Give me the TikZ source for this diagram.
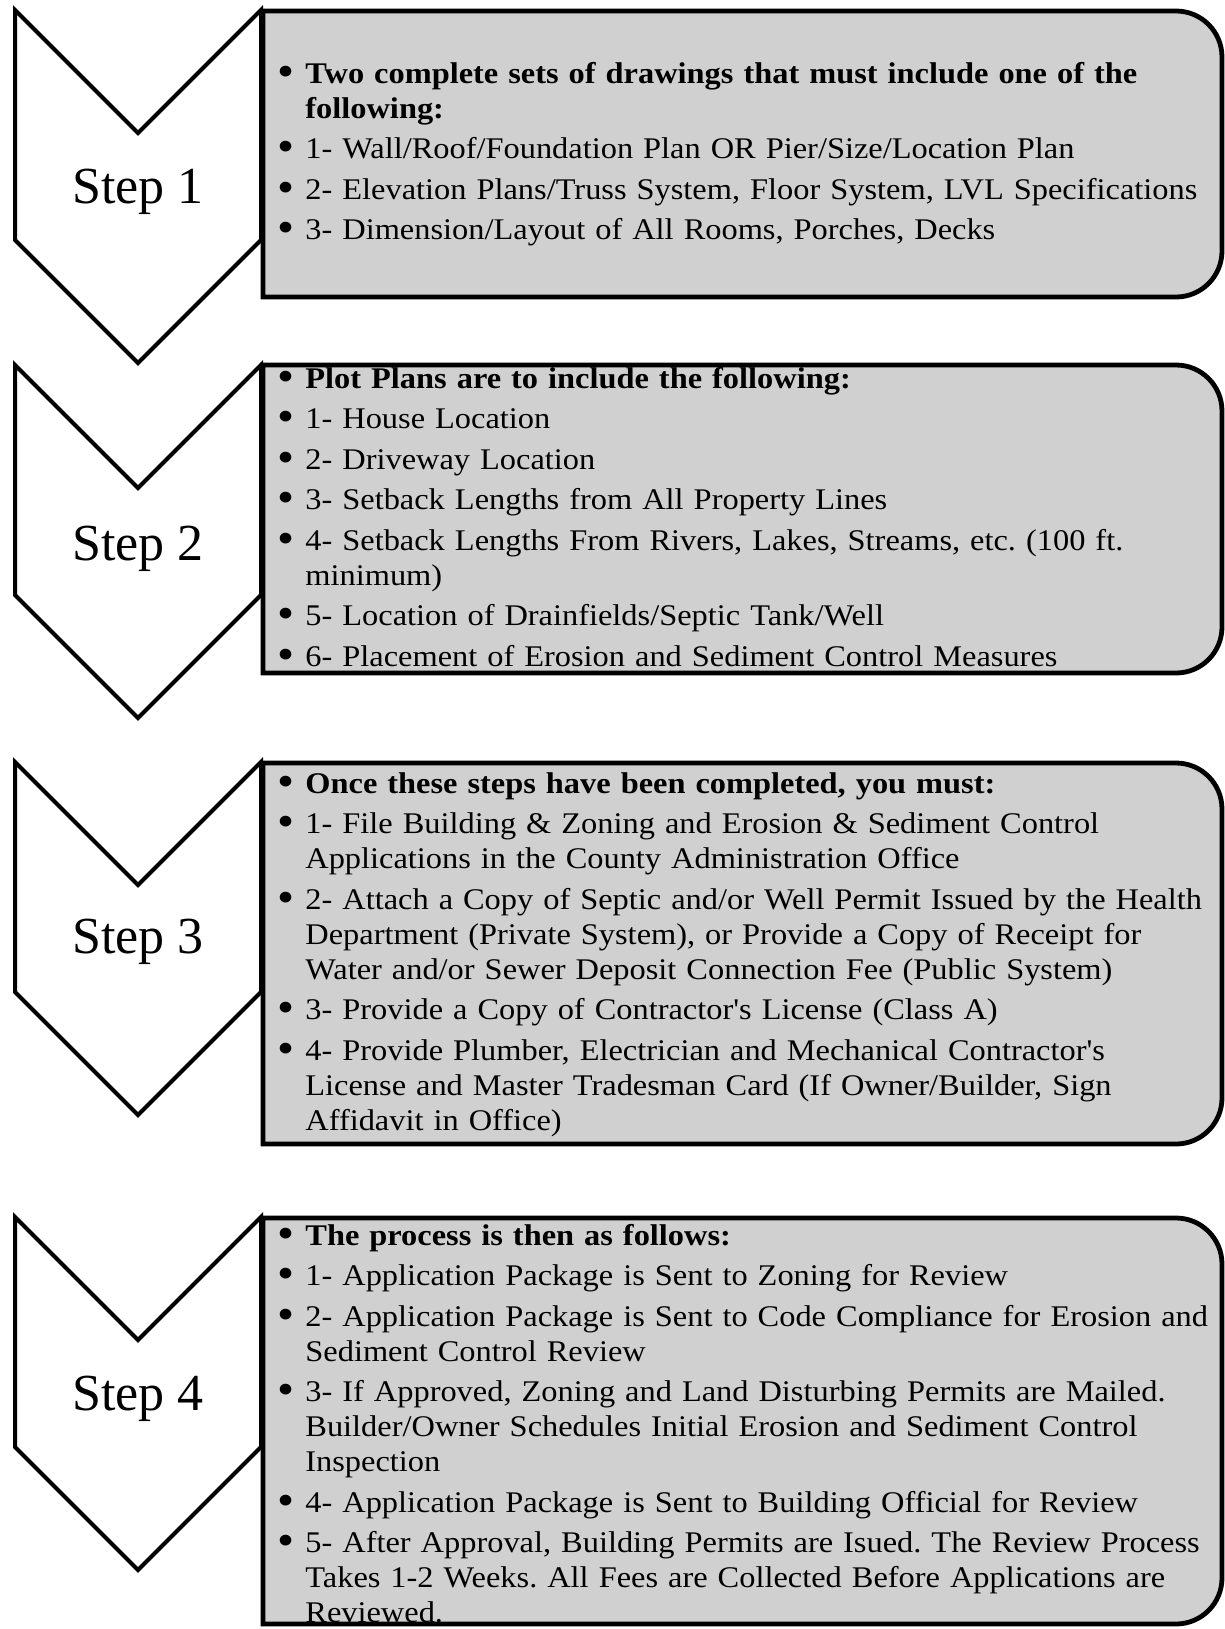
\documentclass[tikz,border=0pt]{standalone}
\usepackage{fontspec}
\setmainfont{Liberation Serif}
\newfontfamily\bodyfont{Liberation Serif}[FakeStretch=1.08]
\usepackage{graphicx}
\usepackage{xcolor}
\definecolor{boxgray}{RGB}{208,208,208}
\newcommand{\bul}{\leavevmode\llap{\raisebox{-1.6pt}{\scalebox{1.5}{\textbullet}}\hspace{5.5pt}}}
\frenchspacing

\begin{document}
\begin{tikzpicture}[x=0.5pt,y=-0.5pt,
  chevron/.style={draw=black,line width=2pt,fill=white,line join=miter},
  infobox/.style={draw=black,line width=2.4pt,fill=boxgray},
  steplabel/.style={anchor=base,inner sep=0pt,font=\fontsize{26}{30}\selectfont},
  boxtext/.style={anchor=base west,inner sep=0pt,text width=455pt,align=left,
    font=\bodyfont\fontsize{15}{17.5}\selectfont}]
  \useasboundingbox (0,0) rectangle (1225,1629);
  % chevrons
  \draw[chevron] (15,10) -- (138,133) -- (261,10) -- (261,240) -- (138,363) -- (15,240) -- cycle;
  \draw[chevron] (15,365) -- (138,488) -- (261,365) -- (261,595) -- (138,718) -- (15,595) -- cycle;
  \draw[chevron] (15,762) -- (138,885) -- (261,762) -- (261,992) -- (138,1115) -- (15,992) -- cycle;
  \draw[chevron] (15,1217) -- (138,1340) -- (261,1217) -- (261,1447) -- (138,1570) -- (15,1447) -- cycle;
  \node[steplabel] (step1) at (138,203) {Step 1};
  \node[steplabel] (step2) at (138,560) {Step 2};
  \node[steplabel] (step3) at (138,953) {Step 3};
  \node[steplabel] (step4) at (138,1410) {Step 4};
  % boxes
  \draw[infobox] (263,11) -- (1176,11) arc[start angle=-90,end angle=0,radius=46]
    -- (1222,251) arc[start angle=0,end angle=90,radius=46] -- (263,297) -- cycle;
  \draw[infobox] (263,365) -- (1176,365) arc[start angle=-90,end angle=0,radius=46]
    -- (1222,627) arc[start angle=0,end angle=90,radius=46] -- (263,673) -- cycle;
  \draw[infobox] (263,763) -- (1176,763) arc[start angle=-90,end angle=0,radius=46]
    -- (1222,1098) arc[start angle=0,end angle=90,radius=46] -- (263,1144) -- cycle;
  \draw[infobox] (263,1218) -- (1176,1218) arc[start angle=-90,end angle=0,radius=46]
    -- (1222,1578) arc[start angle=0,end angle=90,radius=46] -- (263,1624) -- cycle;
  % box texts
  \node[boxtext] (text1) at (305,83) {%
    \bul\textbf{Two complete sets of drawings that must include one of the}\\
    \textbf{following:}\\[2.75pt]
    \bul 1- Wall/Roof/Foundation Plan OR Pier/Size/Location Plan\\[2.75pt]
    \bul 2- Elevation Plans/Truss System, Floor System, LVL Specifications\\[2.75pt]
    \bul 3- Dimension/Layout of All Rooms, Porches, Decks};
  \node[boxtext] (text2) at (305,388) {%
    \bul\textbf{Plot Plans are to include the following:}\\[2.75pt]
    \bul 1- House Location\\[2.75pt]
    \bul 2- Driveway Location\\[2.75pt]
    \bul 3- Setback Lengths from All Property Lines\\[2.75pt]
    \bul 4- Setback Lengths From Rivers, Lakes, Streams, etc. (100 ft.\\
    minimum)\\[2.75pt]
    \bul 5- Location of Drainfields/Septic Tank/Well\\[2.75pt]
    \bul 6- Placement of Erosion and Sediment Control Measures};
  \node[boxtext] (text3) at (305,793) {%
    \bul\textbf{Once these steps have been completed, you must:}\\[2.75pt]
    \bul 1- File Building \& Zoning and Erosion \& Sediment Control\\
    Applications in the County Administration Office\\[2.75pt]
    \bul 2- Attach a Copy of Septic and/or Well Permit Issued by the Health\\
    Department (Private System), or Provide a Copy of Receipt for\\
    Water and/or Sewer Deposit Connection Fee (Public System)\\[2.75pt]
    \bul 3- Provide a Copy of Contractor's License (Class A)\\[2.75pt]
    \bul 4- Provide Plumber, Electrician and Mechanical Contractor's\\
    License and Master Tradesman Card (If Owner/Builder, Sign\\
    Affidavit in Office)};
  \node[boxtext] (text4) at (305,1245) {%
    \bul\textbf{The process is then as follows:}\\[2.75pt]
    \bul 1- Application Package is Sent to Zoning for Review\\[2.75pt]
    \bul 2- Application Package is Sent to Code Compliance for Erosion and\\
    Sediment Control Review\\[2.75pt]
    \bul 3- If Approved, Zoning and Land Disturbing Permits are Mailed.\\
    Builder/Owner Schedules Initial Erosion and Sediment Control\\
    Inspection\\[2.75pt]
    \bul 4- Application Package is Sent to Building Official for Review\\[2.75pt]
    \bul 5- After Approval, Building Permits are Isued. The Review Process\\
    Takes 1-2 Weeks. All Fees are Collected Before Applications are\\
    Reviewed.};
\end{tikzpicture}
\end{document}
